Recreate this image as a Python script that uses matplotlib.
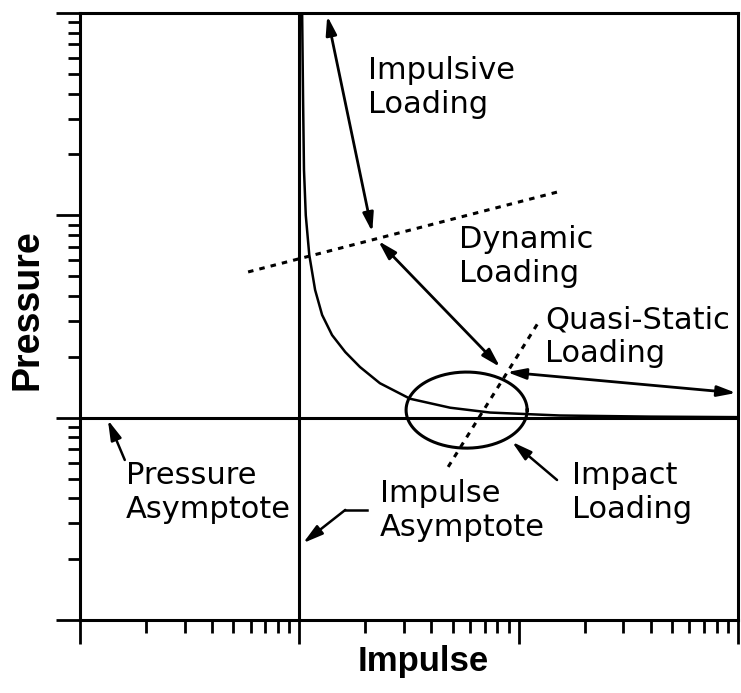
"""
Pressure-impulse (P-I) diagram with loading regimes.
"""

import numpy as np
import matplotlib
matplotlib.use("Agg")
import matplotlib.pyplot as plt
from matplotlib.ticker import LogLocator, NullFormatter

# ------------------------------------------------------------
# Values (log axes, 1 .. 1000 both ways)
# ------------------------------------------------------------
curve_impulse = [10.3, 10.4, 10.5, 10.7, 11.1, 11.8, 12.7, 14.1, 16.2,
                 18.9, 23.3, 32.0, 48.7, 74.1, 154, 397, 1000]
curve_pressure = [980, 372, 168, 100, 63.7, 42.8, 32.2, 25.6, 21.1,
                  17.8, 14.8, 12.4, 11.2, 10.6, 10.25, 10.12, 10.06]

impulse_asymptote = 10
pressure_asymptote = 10

# regime arrows: (impulse start, impulse end), (pressure start, pressure end)
impulsive_i = [13.4, 21.5]
impulsive_p = [968, 82.8]
dynamic_i = [22.9, 82.3]
dynamic_p = [74.7, 17.8]
quasi_i = [88.5, 980]
quasi_p = [16.8, 13.25]

# dotted regime boundaries
bound1_i = [5.84, 151]
bound1_p = [52.5, 130.6]
bound2_i = [47.7, 125]
bound2_p = [5.71, 30.4]

# impact ellipse: centre and size in decades
impact_centre = (57.9, 10.9)
impact_size = (0.552, 0.376)

# leader arrows (tail -> tip)
press_arrow = [(1.60, 6.18), (1.34, 9.74)]
imp_leader = [(20.35, 3.50), (16.2, 3.50), (10.4, 2.40)]
impact_arrow = [(149.6, 4.92), (93.3, 7.59)]

labels = ["Impulsive\nLoading", "Dynamic\nLoading", "Quasi-Static\nLoading",
          "Pressure\nAsymptote", "Impulse\nAsymptote", "Impact\nLoading"]
# anchor = left edge, baseline of the last line
label_pos = [(20.6, 321), (53.5, 46.9), (132, 18.9),
             (1.62, 3.19), (23.3, 2.60), (175, 3.19)]

# ------------------------------------------------------------
fig = plt.figure(figsize=(7.41, 6.93), dpi=100)
ax = fig.add_axes([80 / 741, 1 - 620 / 693, 658 / 741, 607 / 693])
ax.set_xscale("log")
ax.set_yscale("log")
ax.set_xlim(1, 1000)
ax.set_ylim(1, 1000)

for axis in (ax.xaxis, ax.yaxis):
    axis.set_major_locator(LogLocator(base=10, numticks=10))
    axis.set_minor_locator(LogLocator(base=10, subs=np.arange(2, 10), numticks=30))
    axis.set_major_formatter(NullFormatter())
    axis.set_minor_formatter(NullFormatter())
ax.tick_params(which="major", direction="out", length=17, width=2, color="black")
ax.tick_params(which="minor", direction="out", length=9, width=2, color="black")
ax.tick_params(labelleft=False, labelbottom=False)
for spine in ax.spines.values():
    spine.set_linewidth(2.2)

# asymptotes
ax.axvline(impulse_asymptote, color="black", lw=2.2)
ax.axhline(pressure_asymptote, color="black", lw=2.2)

# P-I curve
ax.plot(curve_impulse, curve_pressure, color="black", lw=1.8)

# regime arrows
arrow_kw = dict(arrowstyle="<|-|>,head_length=0.7,head_width=0.2",
                color="black", lw=2.0, shrinkA=0, shrinkB=0, mutation_scale=16)
for xi, pi in [(impulsive_i, impulsive_p), (dynamic_i, dynamic_p), (quasi_i, quasi_p)]:
    ax.annotate("", xy=(xi[1], pi[1]), xytext=(xi[0], pi[0]), arrowprops=arrow_kw)

# dotted boundaries
for xi, pi in [(bound1_i, bound1_p), (bound2_i, bound2_p)]:
    ax.plot(xi, pi, color="black", lw=2.2, dashes=(1.8, 2.0))

# impact ellipse (drawn in log space)
t = np.linspace(0, 2 * np.pi, 300)
ex = 10 ** (np.log10(impact_centre[0]) + impact_size[0] / 2 * np.cos(t))
ey = 10 ** (np.log10(impact_centre[1]) + impact_size[1] / 2 * np.sin(t))
ax.plot(ex, ey, color="black", lw=2.2)

# leader arrows
lead_kw = dict(arrowstyle="-|>,head_length=0.8,head_width=0.22",
               color="black", lw=1.8, shrinkA=0, shrinkB=0, mutation_scale=15)
ax.annotate("", xy=press_arrow[1], xytext=press_arrow[0], arrowprops=lead_kw)
ax.plot([imp_leader[0][0], imp_leader[1][0]], [imp_leader[0][1], imp_leader[1][1]],
        color="black", lw=1.8)
ax.annotate("", xy=imp_leader[2], xytext=imp_leader[1], arrowprops=lead_kw)
ax.annotate("", xy=impact_arrow[1], xytext=impact_arrow[0], arrowprops=lead_kw)

# text labels
for txt, (x, y) in zip(labels, label_pos):
    ax.text(x, y, txt, fontsize=22, ha="left", va="baseline", color="black")

ax.set_xlabel("Impulse", fontsize=25, fontweight="bold",
              family=["Liberation Sans", "DejaVu Sans"])
ax.xaxis.set_label_coords(0.521, -0.042)
ax.set_ylabel("Pressure", fontsize=27, fontweight="bold",
              family=["Liberation Sans", "DejaVu Sans"])
ax.yaxis.set_label_coords(-0.052, 0.511)

plt.savefig("out.png", dpi=100)
plt.close()
